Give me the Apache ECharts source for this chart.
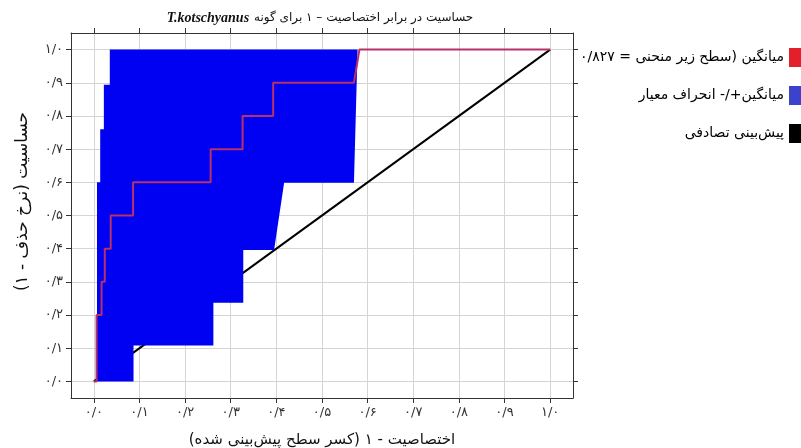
<!DOCTYPE html>
<html><head><meta charset="utf-8">
<script src="https://cdn.jsdelivr.net/npm/echarts@6/dist/echarts.min.js"></script>
<style>html,body{margin:0;padding:0;background:#fff}#c{width:801px;height:448px}</style>
</head><body><div id="c"></div>
<script>
// tick labels (Persian digits)
const tickLabels = ['۰/۰','۰/۱','۰/۲','۰/۳','۰/۴','۰/۵','۰/۶','۰/۷','۰/۸','۰/۹','۱/۰'];
// mean ROC curve (step)
const meanX = [0,0.006,0.006,0.017,0.017,0.024,0.024,0.037,0.037,0.086,0.086,0.256,0.256,0.326,0.326,0.393,0.393,0.570,0.582,1];
const meanY = [0,0,0.2,0.2,0.3,0.3,0.4,0.4,0.5,0.5,0.6,0.6,0.7,0.7,0.8,0.8,0.9,0.9,1,1];
// mean + sd (upper band edge)
const upperX = [0.007,0.007,0.014,0.014,0.022,0.022,0.035,0.035,0.578];
const upperY = [0,0.6,0.6,0.76,0.76,0.894,0.894,1,1];
// mean - sd (lower band edge)
const lowerX = [0.007,0.087,0.087,0.262,0.262,0.3275,0.3275,0.395,0.417,0.570];
const lowerY = [0,0,0.108,0.108,0.237,0.237,0.396,0.396,0.599,0.599];
// random prediction
const randomX = [0,1];
const randomY = [0,1];

const RLM = '\u200F';
const fa = s => RLM + s + RLM;
const nameMean = fa('میانگین (سطح زیر منحنی = ۰/۸۲۷');
const nameBand = fa('میانگین+/- انحراف معیار');
const nameRand = fa('پیش‌بینی تصادفی');
const FONT = 'DejaVu Sans';

const zip = (a, b) => a.map((v, i) => [v, b[i]]);

const chart = echarts.init(document.getElementById('c'), null, {renderer: 'canvas'});
const gridLine = {show: true, lineStyle: {color: '#d4d4d4', width: 1}};
const tickVals = [0,0.1,0.2,0.3,0.4,0.5,0.6,0.7,0.8,0.9,1];
const tickFmt = v => { const i = Math.round(v * 10); return (Math.abs(v * 10 - i) < 1e-6 && i >= 0 && i <= 10) ? tickLabels[i] : ''; };

chart.setOption({
  animation: false,
  backgroundColor: '#fff',
  title: {
    text: '{it|T.kotschyanus} {fa|' + fa('حساسیت در برابر اختصاصیت – ۱ برای گونه') + '}',
    left: 315, top: 4, textAlign: 'center',
    textStyle: {
      fontWeight: 'normal',
      rich: {
        it: {fontFamily: 'Liberation Serif', fontStyle: 'italic', fontWeight: 'bold', fontSize: 14, color: '#111'},
        fa: {fontFamily: FONT, fontSize: 12, fontWeight: 'normal', color: '#111'}
      }
    }
  },
  legend: {
    orient: 'vertical', align: 'right', right: -12, top: 43,
    itemWidth: 19, itemHeight: 19, itemGap: 19,
    icon: 'rect',
    textStyle: {fontFamily: FONT, fontSize: 14, color: '#000'},
    data: [
      {name: nameMean, itemStyle: {color: '#e3202a'}},
      {name: nameBand, itemStyle: {color: '#3b43cc'}},
      {name: nameRand, itemStyle: {color: '#000'}}
    ]
  },
  grid: {left: 71, right: 228, top: 33, bottom: 50, containLabel: false, outerBoundsMode: 'none'},
  xAxis: [{
    type: 'value', min: -0.05, max: 1.05,
    axisLine: {show: true, onZero: false, lineStyle: {color: '#333'}},
    axisTick: {show: true, length: 5, lineStyle: {color: '#333'}, customValues: tickVals},
    axisLabel: {customValues: tickVals, formatter: tickFmt, fontFamily: FONT, fontSize: 13, color: '#333', margin: 8},
    splitLine: gridLine,
    name: fa('اختصاصیت - ۱ (کسر سطح پیش‌بینی شده)'),
    nameLocation: 'middle', nameGap: 35,
    nameTextStyle: {fontFamily: FONT, fontSize: 15, color: '#111'}
  }, {
    type: 'value', position: 'top', min: -0.05, max: 1.05,
    axisLine: {show: true, onZero: false, lineStyle: {color: '#333'}},
    axisTick: {show: true, length: 5, lineStyle: {color: '#333'}, customValues: tickVals},
    axisLabel: {show: false}, splitLine: {show: false}
  }],
  yAxis: [{
    type: 'value', min: -0.05, max: 1.05,
    axisLine: {show: true, onZero: false, lineStyle: {color: '#333'}},
    axisTick: {show: true, length: 5, lineStyle: {color: '#333'}, customValues: tickVals},
    axisLabel: {customValues: tickVals, formatter: tickFmt, fontFamily: FONT, fontSize: 13, color: '#333', margin: 8},
    splitLine: gridLine,
    name: fa('حساسیت (نرخ حذف - ۱)'),
    nameLocation: 'middle', nameGap: 40, nameRotate: 90,
    nameTextStyle: {fontFamily: FONT, fontSize: 17, color: '#111', padding: [0, 0, 0, 28]}
  }, {
    type: 'value', position: 'right', min: -0.05, max: 1.05,
    axisLine: {show: true, onZero: false, lineStyle: {color: '#333'}},
    axisTick: {show: true, length: 5, lineStyle: {color: '#333'}, customValues: tickVals},
    axisLabel: {show: false}, splitLine: {show: false}
  }],
  series: [
    {
      name: nameRand, type: 'line', z: 2, symbol: 'none',
      data: zip(randomX, randomY),
      lineStyle: {color: '#000', width: 2}, itemStyle: {color: '#000'}
    },
    {
      name: nameBand, type: 'custom', z: 3, clip: true,
      data: [[0, 0]],
      itemStyle: {color: '#0000f2'},
      renderItem: function (params, api) {
        const pts = [];
        for (let i = 0; i < upperX.length; i++) pts.push(api.coord([upperX[i], upperY[i]]));
        for (let i = lowerX.length - 1; i >= 0; i--) pts.push(api.coord([lowerX[i], lowerY[i]]));
        return {type: 'polygon', shape: {points: pts}, style: {fill: '#0000f2', stroke: null}};
      }
    },
    {
      name: nameMean, type: 'line', z: 4, symbol: 'none',
      data: zip(meanX, meanY),
      lineStyle: {color: '#b8306a', width: 2}, itemStyle: {color: '#e3202a'}
    }
  ]
});
</script>
</body></html>
